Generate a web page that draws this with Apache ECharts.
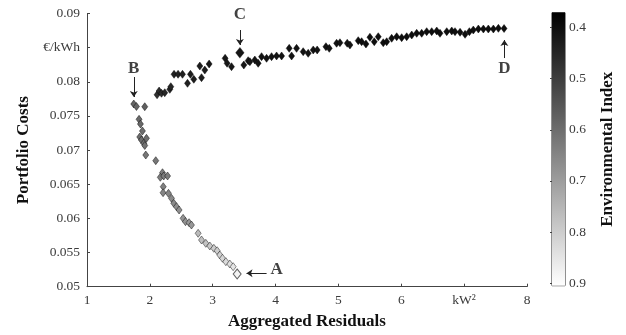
<!DOCTYPE html>
<html>
<head>
<meta charset="utf-8">
<script src="https://cdn.jsdelivr.net/npm/echarts@6/dist/echarts.min.js"></script>
<style>
  html, body { margin: 0; padding: 0; background: #fff; }
  #chart { width: 626px; height: 335px; }
</style>
</head>
<body>
<div id="chart"></div>
<script>
// upper branch (B -> C -> D), x = aggregated residuals, y = portfolio cost, env = environmental index
const upperX = [2.115, 2.147, 2.185, 2.237, 2.317, 2.333, 2.385, 2.449, 2.519, 2.599, 2.646, 2.699, 2.822, 2.795, 2.874, 2.943,
  3.197, 3.229, 3.299, 3.495, 3.564, 3.591, 3.670, 3.723, 3.777, 3.857, 3.936, 4.016, 4.096, 4.217, 4.255, 4.334, 4.439,
  4.519, 4.599, 4.662, 4.801, 4.854, 4.971, 5.024, 5.140, 5.183, 5.315, 5.369, 5.438, 5.501, 5.570, 5.634, 5.713, 5.768,
  5.847, 5.927, 6.006, 6.086, 6.166, 6.245, 6.325, 6.404, 6.484, 6.564, 6.616, 6.723, 6.803, 6.855, 6.935, 7.015, 7.083,
  7.146, 7.226, 7.306, 7.385, 7.465, 7.545, 7.635]
const upperY = [0.0781, 0.07865, 0.07832, 0.0784, 0.0789, 0.07928, 0.0811, 0.0811, 0.0811, 0.07978, 0.0811, 0.08037, 0.0806, 0.08231, 0.08172, 0.08261,
  0.08344, 0.08271, 0.08221, 0.08246, 0.08309, 0.08294, 0.08319, 0.08271, 0.08368, 0.08344, 0.08368, 0.08378, 0.08378, 0.0849, 0.08378, 0.0849, 0.08441,
  0.08417, 0.08466, 0.08466, 0.08514, 0.0849, 0.08564, 0.08572, 0.08564, 0.08539, 0.08602, 0.08587, 0.08553, 0.08652, 0.08587, 0.0866, 0.08572, 0.08587,
  0.08637, 0.0866, 0.08646, 0.0866, 0.08685, 0.0871, 0.0871, 0.08734, 0.08734, 0.08744, 0.0871, 0.08734, 0.08744, 0.08734, 0.08725, 0.08695, 0.08734,
  0.08758, 0.08773, 0.08773, 0.08773, 0.08773, 0.08783, 0.0878]
const upperEnv = [0.47, 0.46, 0.46, 0.45, 0.45, 0.45, 0.44, 0.44, 0.44, 0.44, 0.43, 0.43, 0.43, 0.43, 0.43, 0.42,
  0.42, 0.42, 0.42, 0.42, 0.42, 0.42, 0.41, 0.41, 0.41, 0.41, 0.41, 0.41, 0.41, 0.41, 0.41, 0.41, 0.41,
  0.41, 0.41, 0.41, 0.41, 0.41, 0.41, 0.41, 0.41, 0.41, 0.40, 0.40, 0.40, 0.40, 0.40, 0.40, 0.40, 0.40,
  0.40, 0.40, 0.40, 0.40, 0.40, 0.40, 0.40, 0.40, 0.40, 0.40, 0.40, 0.40, 0.40, 0.40, 0.40, 0.40, 0.40,
  0.40, 0.40, 0.40, 0.40, 0.40, 0.40, 0.40]

// lower branch (B -> A)
const lowerX = [1.744, 1.787, 1.919, 1.828, 1.850, 1.882, 1.839, 1.866, 1.903, 1.946, 1.919, 1.935, 2.094, 2.201, 2.166, 2.221,
  2.282, 2.213, 2.210, 2.296, 2.344, 2.381, 2.424, 2.465, 2.529, 2.567, 2.624, 2.662, 2.768, 2.822, 2.890, 2.954, 3.018,
  3.070, 3.113, 3.156, 3.209, 3.272, 3.325]
const lowerY = [0.07675, 0.07638, 0.07635, 0.07451, 0.07382, 0.0728, 0.07192, 0.07148, 0.071, 0.07173, 0.07067, 0.06928, 0.06845, 0.06669, 0.06602, 0.06621,
  0.06621, 0.06464, 0.06376, 0.06367, 0.06294, 0.06221, 0.06171, 0.06123, 0.06001, 0.05952, 0.05937, 0.05903, 0.05782, 0.05684, 0.05635, 0.05596, 0.05562,
  0.05527, 0.05464, 0.05416, 0.05366, 0.05332, 0.05293]
const lowerEnv = [0.58, 0.58, 0.57, 0.59, 0.59, 0.6, 0.6, 0.6, 0.61, 0.6, 0.61, 0.62, 0.62, 0.63, 0.63, 0.63,
  0.63, 0.64, 0.65, 0.65, 0.66, 0.66, 0.67, 0.67, 0.68, 0.68, 0.69, 0.69, 0.76, 0.77, 0.78, 0.79, 0.8,
  0.8, 0.81, 0.82, 0.83, 0.84, 0.85]

// highlighted points C and A
const keyX = [3.432, 3.389]
const keyY = [0.08426, 0.05186]
const keyEnv = [0.42, 0.88]

// annotation letters and arrows
const letterNames = ['A', 'B', 'C', 'D']
const letterX = [4.016, 1.744, 3.432, 7.64]
const letterY = [0.05245, 0.0820, 0.0899, 0.08187]
const arrowFrom = [[3.857, 0.05196], [1.744, 0.0807], [3.432, 0.08758], [7.64, 0.08348]]
const arrowTo = [[3.538, 0.05196], [1.744, 0.07777], [3.432, 0.08539], [7.64, 0.08612]]

const envTicks = [0.4, 0.5, 0.6, 0.7, 0.8, 0.9]
const envMin = 0.371
const envMax = 0.905

const FONT = 'Liberation Serif'
const TICK_COLOR = '#3b3b3b'

const pts = (xs, ys, es) => xs.map((x, i) => [x, ys[i], es[i]])

const chart = echarts.init(document.getElementById('chart'))
chart.setOption({
  animation: false,
  textStyle: { fontFamily: FONT },
  grid: [
    { left: 87, right: 99, top: 13.5, bottom: 48.3 },
    { left: 552, width: 13, top: 12.7, height: 273, show: true, borderColor: '#222', borderWidth: 1 },
  ],
  xAxis: [
    {
      gridIndex: 0, type: 'value', min: 1, max: 8, interval: 1,
      name: 'Aggregated Residuals', nameLocation: 'middle', nameGap: 26,
      nameTextStyle: { fontFamily: FONT, fontSize: 17, fontWeight: 'bold', color: '#111' },
      axisLine: { onZero: false, lineStyle: { color: '#444', width: 1 } },
      axisTick: { inside: true, length: 3, lineStyle: { color: '#444' } },
      axisLabel: {
        fontFamily: FONT, fontSize: 13.5, color: TICK_COLOR, margin: 7,
        formatter: v => (Math.abs(v - 7) < 1e-9 ? 'kW²' : String(v)),
      },
      splitLine: { show: false },
    },
    { gridIndex: 1, type: 'value', min: 0, max: 1, show: false },
  ],
  yAxis: [
    {
      gridIndex: 0, type: 'value', min: 0.05, max: 0.09, interval: 0.005,
      name: 'Portfolio Costs', nameLocation: 'middle', nameGap: 54, nameRotate: 90,
      nameTextStyle: { fontFamily: FONT, fontSize: 17, fontWeight: 'bold', color: '#111' },
      axisLine: { show: true, onZero: false, lineStyle: { color: '#444', width: 1 } },
      axisTick: { show: true, inside: true, length: 3, lineStyle: { color: '#444' } },
      axisLabel: {
        fontFamily: FONT, fontSize: 13.5, color: TICK_COLOR, margin: 7,
        formatter: v => (Math.abs(v - 0.085) < 1e-9 ? '€/kWh' : String(+v.toFixed(3))),
      },
      splitLine: { show: false },
    },
    {
      gridIndex: 1, type: 'value', min: envMin, max: envMax, inverse: true, position: 'right',
      name: 'Environmental Index', nameLocation: 'middle', nameGap: 34, nameRotate: 90,
      nameTextStyle: { fontFamily: FONT, fontSize: 17, fontWeight: 'bold', color: '#111' },
      axisLine: { show: false },
      axisTick: { show: true, inside: true, length: 2, customValues: envTicks, lineStyle: { color: '#444' } },
      axisLabel: {
        fontFamily: FONT, fontSize: 13.5, color: TICK_COLOR, margin: 4, customValues: envTicks,
        formatter: v => String(+v.toFixed(1)),
      },
      splitLine: { show: false },
    },
  ],
  visualMap: {
    show: false, type: 'continuous', seriesIndex: [0, 1], dimension: 2,
    min: envMin, max: envMax, inRange: { color: ['#000000', '#ffffff'] },
  },
  series: [
    {
      type: 'scatter', xAxisIndex: 0, yAxisIndex: 0,
      symbol: 'diamond', symbolSize: [6, 8],
      itemStyle: { borderColor: 'rgba(0,0,0,0.55)', borderWidth: 0.8, opacity: 1 },
      data: pts(upperX, upperY, upperEnv).concat(pts(lowerX, lowerY, lowerEnv)),
    },
    {
      type: 'scatter', xAxisIndex: 0, yAxisIndex: 0,
      symbol: 'diamond', symbolSize: [8, 10],
      itemStyle: { borderColor: 'rgba(0,0,0,0.6)', borderWidth: 1, opacity: 1 },
      data: pts(keyX, keyY, keyEnv),
    },
    {
      type: 'lines', coordinateSystem: 'cartesian2d', xAxisIndex: 0, yAxisIndex: 0,
      symbol: ['none', 'arrow'], symbolSize: 6,
      lineStyle: { color: '#222', width: 1, opacity: 1 },
      data: arrowFrom.map((p, i) => ({ coords: [p, arrowTo[i]] })),
    },
    {
      type: 'scatter', xAxisIndex: 0, yAxisIndex: 0, symbolSize: 0,
      label: {
        show: true, position: 'inside', formatter: p => p.data[2],
        fontFamily: FONT, fontSize: 17, fontWeight: 'bold', color: '#111',
      },
      data: letterNames.map((n, i) => [letterX[i], letterY[i], n]),
    },
    {
      type: 'custom', xAxisIndex: 1, yAxisIndex: 1, silent: true,
      renderItem: (params, api) => {
        const p1 = api.coord([api.value(0), api.value(1)])
        const p2 = api.coord([api.value(2), api.value(3)])
        return {
          type: 'rect',
          shape: { x: Math.min(p1[0], p2[0]), y: Math.min(p1[1], p2[1]), width: Math.abs(p2[0] - p1[0]), height: Math.abs(p2[1] - p1[1]) },
          style: {
            fill: new echarts.graphic.LinearGradient(0, 0, 0, 1, [
              { offset: 0, color: '#000000' },
              { offset: 1, color: '#ffffff' },
            ]),
          },
        }
      },
      data: [[0, envMin, 1, envMax]],
    },
  ],
})
</script>
</body>
</html>
